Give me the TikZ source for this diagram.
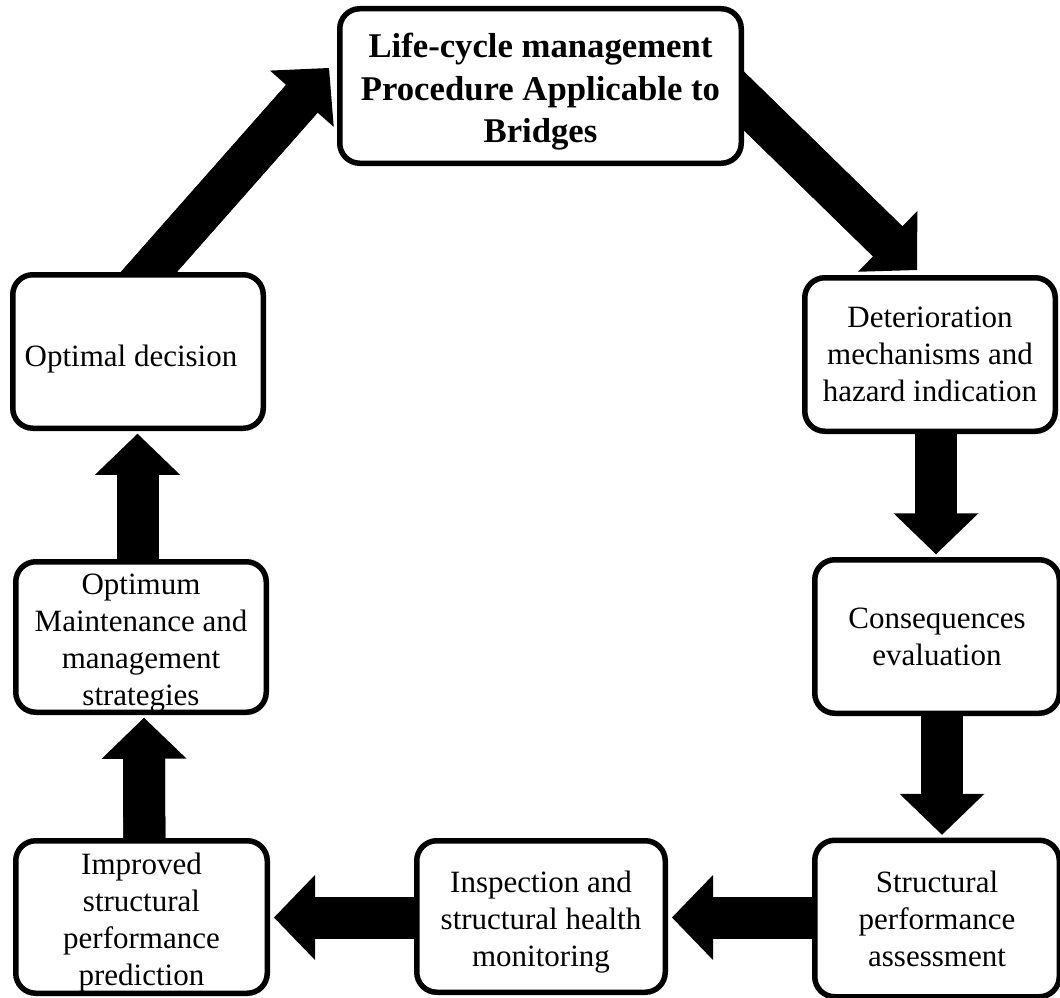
\documentclass[tikz,border=0pt]{standalone}
\usepackage{fontspec}
\setmainfont{Liberation Serif}
\usetikzlibrary{arrows.meta,calc}
\pgfdeclarelayer{bg}
\pgfsetlayers{bg,main}
\newcommand{\blockarr}[2]{%
  \draw[blockarrow] #1 -- #2;
  \draw[shaftline] #1 -- #2;}
\newcommand{\lift}[1]{\rule{0pt}{#1}}
\begin{document}
\begin{tikzpicture}[x=1pt,y=-1pt,
  box/.style={draw=black, fill=white, line width=5.5pt, rounded corners=20pt,
    align=center, inner sep=0pt, font=\fontsize{31}{37}\selectfont},
  blockarrow/.style={draw=black, line width=42pt,
    -{Triangle[length=41pt,width=85pt,line width=0pt]}},
  shaftline/.style={draw=black, line width=42pt, shorten >=30pt}]
\useasboundingbox (0,0) rectangle (1060,998);
\node[box, minimum width=401.5pt, minimum height=154.5pt,
  font=\bfseries\fontsize{34.7}{42.5}\selectfont] (top) at (540.5,86)
  {\lift{36pt}Life-cycle management\\Procedure Applicable to\\Bridges};
\node[box, minimum width=250.5pt, minimum height=153.5pt] (opt) at (138,351.5)
  {\lift{37pt}Optimal decision\rule{14pt}{0pt}};
\node[box, minimum width=250.5pt, minimum height=153.5pt] (det) at (930,354.5)
  {Deterioration\\mechanisms and\\hazard indication};
\node[box, minimum width=244.5pt, minimum height=153.5pt] (cons) at (937,636.5)
  {Consequences\\evaluation};
\node[box, minimum width=244.5pt, minimum height=156.5pt] (struct) at (937,918.5)
  {Structural\\performance\\assessment};
\node[box, minimum width=248.5pt, minimum height=151.5pt] (insp) at (541,916.5)
  {\lift{32pt}Inspection and\\structural health\\monitoring};
\node[box, minimum width=251.5pt, minimum height=152.5pt] (impr) at (141.5,917)
  {\lift{32pt}Improved\\structural\\performance\\prediction};
\node[box, minimum width=250.5pt, minimum height=150.5pt] (optm) at (141,637)
  {\lift{32pt}Optimum\\Maintenance and\\management\\strategies};
\begin{pgfonlayer}{bg}
\blockarr{($(opt.center)+(-9,-57)$)}{($(top.center)+(-211.5,-18)$)}
\blockarr{($(top.center)+(182,-6)$)}{($(det.center)+(-13,-84.5)$)}
\blockarr{($(det.center)+(6,0)$)}{($(cons.north)+(-1,-2.75)$)}
\blockarr{($(cons.center)+(5,0)$)}{($(struct.north)+(5,-2.75)$)}
\blockarr{($(struct.center)+(0,-1)$)}{($(insp.east)+(4,1)$)}
\blockarr{($(insp.center)+(0,1)$)}{($(impr.east)+(4,0.5)$)}
\blockarr{($(impr.center)+(3,0)$)}{($(optm.south)+(3,2.75)$)}
\blockarr{($(optm.center)+(-3.5,0)$)}{($(opt.south)+(-0.5,2.75)$)}
\end{pgfonlayer}
\end{tikzpicture}
\end{document}
